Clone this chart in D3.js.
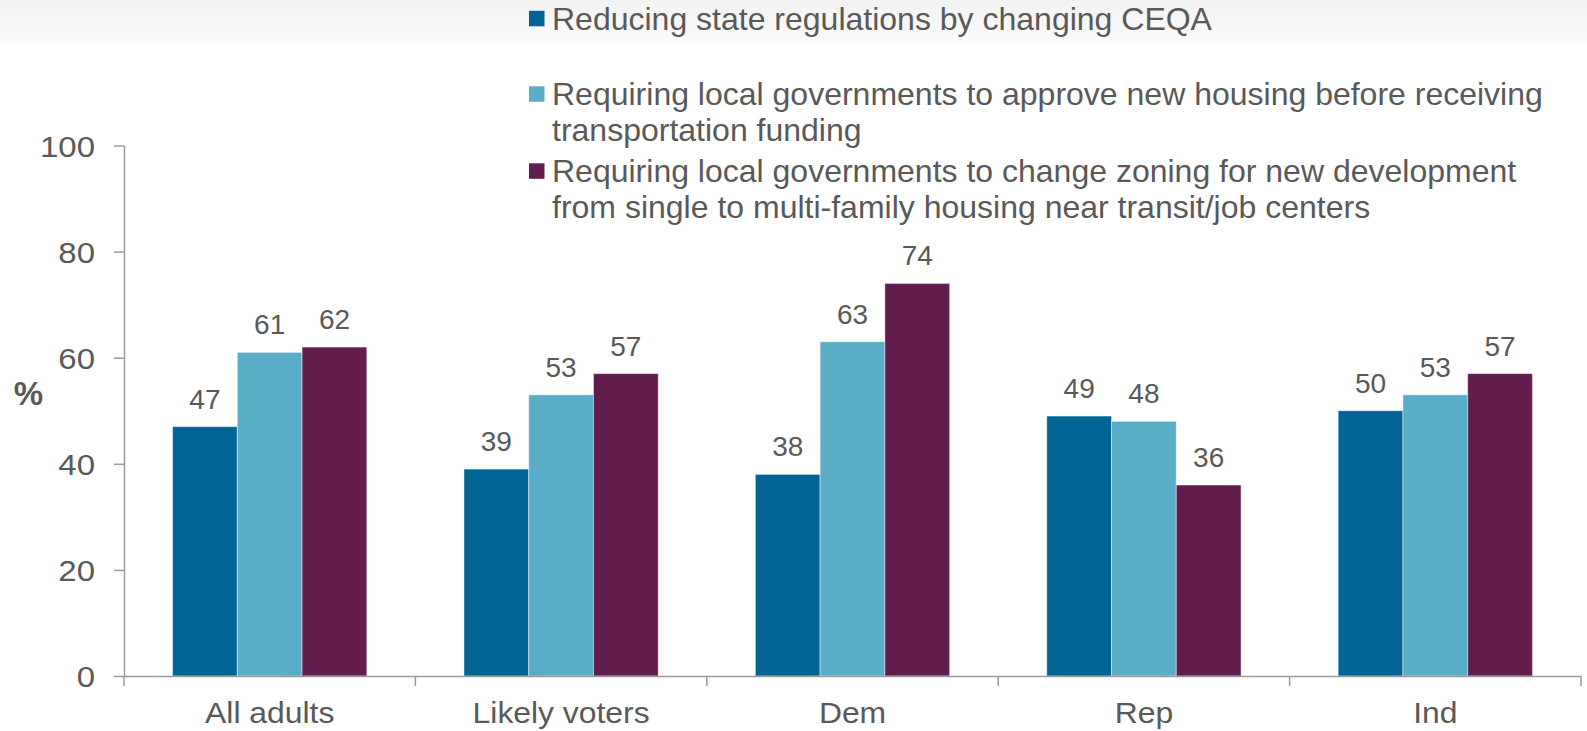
<!DOCTYPE html>
<html>
<head>
<meta charset="utf-8">
<script src="https://cdn.jsdelivr.net/npm/d3@7"></script>
<style>
  html, body { margin: 0; padding: 0; background: #ffffff; }
  svg { display: block; font-family: "Liberation Sans", Arial, sans-serif; }
</style>
</head>
<body>
<svg id="chart" width="1587" height="731"></svg>
<script>
// ---- data ----
const categories = ["All adults", "Likely voters", "Dem", "Rep", "Ind"];
const seriesNames = [
  "Reducing state regulations by changing CEQA",
  "Requiring local governments to approve new housing before receiving\ntransportation funding",
  "Requiring local governments to change zoning for new development\nfrom single to multi-family housing near transit/job centers"
];
const reducingCEQA   = [47, 39, 38, 49, 50];
const approveHousing = [61, 53, 63, 48, 53];
const changeZoning   = [62, 57, 74, 36, 57];
const seriesValues = [reducingCEQA, approveHousing, changeZoning];
const yTicks = [0, 20, 40, 60, 80, 100];
const yLabel = "%";

// ---- style ----
const colors = ["#006595", "#5AADC6", "#621C4E"];
const textColor = "#595959";
const axisColor = "#9a9a9a";

const svg = d3.select("#chart");

// top band
const defs = svg.append("defs");
const grad = defs.append("linearGradient").attr("id", "band").attr("x1", 0).attr("y1", 0).attr("x2", 0).attr("y2", 1);
grad.append("stop").attr("offset", "0%").attr("stop-color", "#f2f2f2");
grad.append("stop").attr("offset", "100%").attr("stop-color", "#fbfbfb");
svg.append("rect").attr("x", 0).attr("y", 0).attr("width", 1587).attr("height", 43).attr("fill", "url(#band)");

// scales
const x0 = d3.scaleBand().domain(categories).range([124, 1581]).padding(0);
const bw = x0.bandwidth();
const x1 = d3.scaleBand().domain(d3.range(seriesNames.length)).range([bw / 6, bw * 5 / 6]).padding(0);
const y = d3.scaleLinear().domain([0, 100]).range([676, 145.5]);

// y axis
const yAxis = d3.axisLeft(y).tickValues(yTicks).tickSize(10).tickSizeOuter(0).tickPadding(19).tickFormat(d3.format("d"));
const gy = svg.append("g").attr("transform", "translate(124,0)").call(yAxis);
gy.select(".domain").attr("stroke", axisColor).attr("stroke-width", 1.5);
gy.selectAll(".tick line").attr("stroke", axisColor).attr("stroke-width", 1.5);
gy.selectAll(".tick text").attr("fill", textColor).style("font-size", "30px")
  .attr("x", 0).attr("dy", "0.36em").attr("transform", "translate(-29,0) scale(1.1,1)");

// y label
svg.append("text").attr("x", 28.5).attr("y", 393).attr("text-anchor", "middle").attr("dominant-baseline", "central")
  .attr("fill", textColor).style("font-size", "33px").style("font-weight", "bold").text(yLabel);

// bars
const groups = svg.append("g").selectAll("g").data(categories).join("g")
  .attr("transform", d => `translate(${x0(d)},0)`);

groups.selectAll("rect")
  .data((c, ci) => seriesValues.map((vals, si) => ({ si, v: vals[ci] })))
  .join("rect")
  .attr("x", d => x1(d.si))
  .attr("width", x1.bandwidth())
  .attr("y", d => y(d.v))
  .attr("height", d => y(0) - y(d.v))
  .attr("fill", d => colors[d.si])
  .attr("stroke", "#ffffff").attr("stroke-opacity", 0.45).attr("stroke-width", 1);

groups.selectAll("text.val")
  .data((c, ci) => seriesValues.map((vals, si) => ({ si, v: vals[ci] })))
  .join("text").attr("class", "val")
  .attr("x", d => x1(d.si) + x1.bandwidth() / 2)
  .attr("y", d => y(d.v) - 18)
  .attr("text-anchor", "middle")
  .attr("fill", textColor).style("font-size", "28px")
  .text(d => d.v);

// x axis
const xAxis = d3.axisBottom(x0).tickSize(0).tickSizeOuter(0);
const gx = svg.append("g").attr("transform", "translate(0,676)").call(xAxis);
gx.select(".domain").attr("stroke", axisColor).attr("stroke-width", 1.5);
gx.selectAll(".tick text").attr("fill", textColor).style("font-size", "29.5px")
  .attr("y", 47).attr("dy", 0).attr("transform", "scale(1.08,1)");
const bounds = categories.map(c => x0(c)).concat([x0.range()[1]]);
gx.selectAll("line.bound").data(bounds).join("line").attr("class", "bound")
  .attr("x1", d => d).attr("x2", d => d).attr("y1", 0).attr("y2", 10)
  .attr("stroke", axisColor).attr("stroke-width", 1.5);

// legend
const legend = svg.append("g");
const legendTop = [18.5, 94, 171];
seriesNames.forEach((name, i) => {
  const g = legend.append("g");
  g.append("rect").attr("x", 529).attr("y", legendTop[i] - 7.7).attr("width", 15.5).attr("height", 15.5).attr("fill", colors[i]);
  const lines = name.split("\n");
  const t = g.append("text").attr("fill", textColor).style("font-size", "32px")
    .attr("x", 552).attr("y", legendTop[i]).attr("dominant-baseline", "central");
  lines.forEach((ln, li) => {
    t.append("tspan").attr("x", 552).attr("dy", li === 0 ? 0 : 36).text(ln);
  });
});
</script>
</body>
</html>
